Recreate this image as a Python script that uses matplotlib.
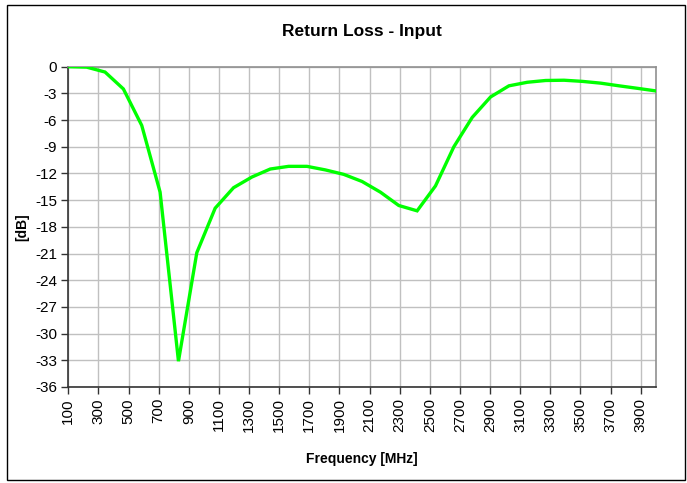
import matplotlib.pyplot as plt
from matplotlib.patches import Rectangle

# frequency sweep points [MHz] and return loss [dB]
freq = [100, 221.9, 343.8, 465.6, 587.5, 709.4, 831.3, 953.1, 1075,
        1196.9, 1318.8, 1440.6, 1562.5, 1684.4, 1806.3, 1928.1, 2050,
        2171.9, 2293.8, 2415.6, 2537.5, 2659.4, 2781.3, 2903.1, 3025,
        3146.9, 3268.8, 3390.6, 3512.5, 3634.4, 3756.3, 3878.1, 4000]
rl_db = [0.0, -0.05, -0.6, -2.5, -6.6, -14.1, -33.1, -20.9, -15.9,
         -13.6, -12.4, -11.5, -11.2, -11.2, -11.6, -12.1, -12.9,
         -14.1, -15.6, -16.2, -13.4, -9.0, -5.7, -3.4, -2.15,
         -1.75, -1.55, -1.52, -1.65, -1.85, -2.15, -2.43, -2.72]

xticks = list(range(100, 4000, 200))
yticks = list(range(-36, 1, 3))

plt.rcParams['font.family'] = ['Liberation Sans', 'DejaVu Sans']

fig = plt.figure(figsize=(6.87, 4.83), dpi=100)
ax = fig.add_axes([68.3 / 687, 1 - 387 / 483, (655.8 - 68.3) / 687, (387 - 66.7) / 483])

ax.plot(freq, rl_db, color='#00ff00', lw=2.4, solid_joinstyle='miter', zorder=3)

ax.set_xlim(100, 4000)
ax.set_ylim(-36, 0)
ax.set_xticks(xticks)
ax.set_xticklabels([str(t) for t in xticks], rotation=90, fontsize=11)
ax.set_yticks(yticks)
ax.set_yticklabels([str(t) for t in yticks], fontsize=11)
ax.grid(True, color='#c0c0c0', lw=1)
ax.set_axisbelow(True)
ax.tick_params(direction='out', length=5, width=1, color='#333333', pad=3)

for s in ('left', 'bottom'):
    ax.spines[s].set_color('#333333')
    ax.spines[s].set_linewidth(1.2)
for s in ('top', 'right'):
    ax.spines[s].set_color('#909090')
    ax.spines[s].set_linewidth(1.2)

ax.set_title('Return Loss - Input', fontsize=12.5, fontweight='bold', pad=22)
ax.set_xlabel('Frequency [MHz]', fontsize=10, fontweight='bold', labelpad=14)
ax.set_ylabel('[dB]', fontsize=10, fontweight='bold', labelpad=4)

# chart area frame
fig.patches.append(Rectangle((7 / 687, 3 / 483), 678 / 687, 475 / 483,
                             transform=fig.transFigure, fill=False,
                             edgecolor='black', lw=1))

fig.savefig('out.png', dpi=100)
